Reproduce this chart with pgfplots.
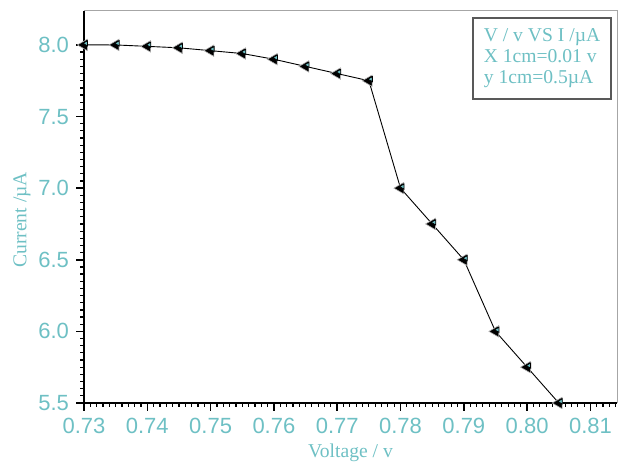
\documentclass[border=0pt]{standalone}
\usepackage{pgfplots}
\pgfplotsset{compat=1.18}
\usepackage{fontspec}
\setmainfont{Liberation Serif}
\newfontfamily\arial{Liberation Sans}
\definecolor{tealc}{RGB}{110,192,196}
\begin{document}
\begin{tikzpicture}
\useasboundingbox (0,0) rectangle (312.5pt,232pt);
\begin{axis}[
  at={(42pt,30.5pt)}, anchor=south west,
  scale only axis, width=266.5pt, height=196pt,
  xmin=0.73, xmax=0.8142, ymin=5.5, ymax=8.237,
  axis x line*=bottom, axis y line*=left,
  axis line style={black, line width=0.9pt, -},
  xtick={0.73,0.74,...,0.815}, ytick={5.5,6.0,...,8.01},
  minor x tick num=9, minor y tick num=9,
  tick align=outside,
  major tick length=4pt, minor tick length=2pt,
  every tick/.style={black, line width=0.8pt},
  every minor tick/.style={black, line width=0.6pt},
  /pgf/number format/assume math mode=true,
  xticklabel style={/pgf/number format/.cd, fixed, fixed zerofill, precision=2},
  yticklabel style={/pgf/number format/.cd, fixed, fixed zerofill, precision=1},
  tick label style={font=\arial\fontsize{11}{12}\selectfont, text=tealc},
  xlabel={Voltage / v}, ylabel={Current /µA},
  label style={font=\fontsize{9.8}{11}\selectfont, text=tealc},
  xlabel style={yshift=1.5pt},
  ylabel style={at={(ticklabel cs:0.467)}, yshift=-3pt},
  clip mode=individual,
]
\draw[gray!70, line width=0.5pt] (rel axis cs:0,1) -- (rel axis cs:1,1) -- (rel axis cs:1,0);
\addplot[black, line width=0.45pt, mark=triangle*, mark size=3.3pt,
  mark options={rotate=90, fill=black, draw=gray!60, line width=0.3pt}] coordinates {
(0.730,8.00) (0.735,8.00) (0.740,7.99) (0.745,7.98) (0.750,7.96) (0.755,7.94)
(0.760,7.90) (0.765,7.85) (0.770,7.80) (0.775,7.75) (0.780,7.00) (0.785,6.75)
(0.790,6.50) (0.795,6.00) (0.800,5.75) (0.805,5.50)
};
\addplot[draw=none, mark=triangle*, mark size=1.5pt,
  mark options={rotate=90, fill=tealc, draw=none, xshift=0.8pt, yshift=-1.0pt}] coordinates {
(0.730,8.00) (0.735,8.00) (0.740,7.99) (0.745,7.98) (0.750,7.96) (0.755,7.94)
(0.760,7.90) (0.765,7.85) (0.770,7.80) (0.775,7.75) (0.780,7.00) (0.785,6.75)
(0.790,6.50) (0.795,6.00) (0.800,5.75) (0.805,5.50)
};
\node[draw=black!65, line width=0.8pt, fill=white, anchor=north east, align=left,
  font=\fontsize{9.8}{10.6}\selectfont, text=tealc, inner xsep=5.5pt, inner ysep=3.5pt,
  minimum width=68.5pt, minimum height=40.5pt]
  at ([xshift=-2.5pt,yshift=-3pt]rel axis cs:1,1)
  {V / v VS I /µA\\X 1cm=0.01 v\\y 1cm=0.5µA};
\end{axis}
\end{tikzpicture}
\end{document}
